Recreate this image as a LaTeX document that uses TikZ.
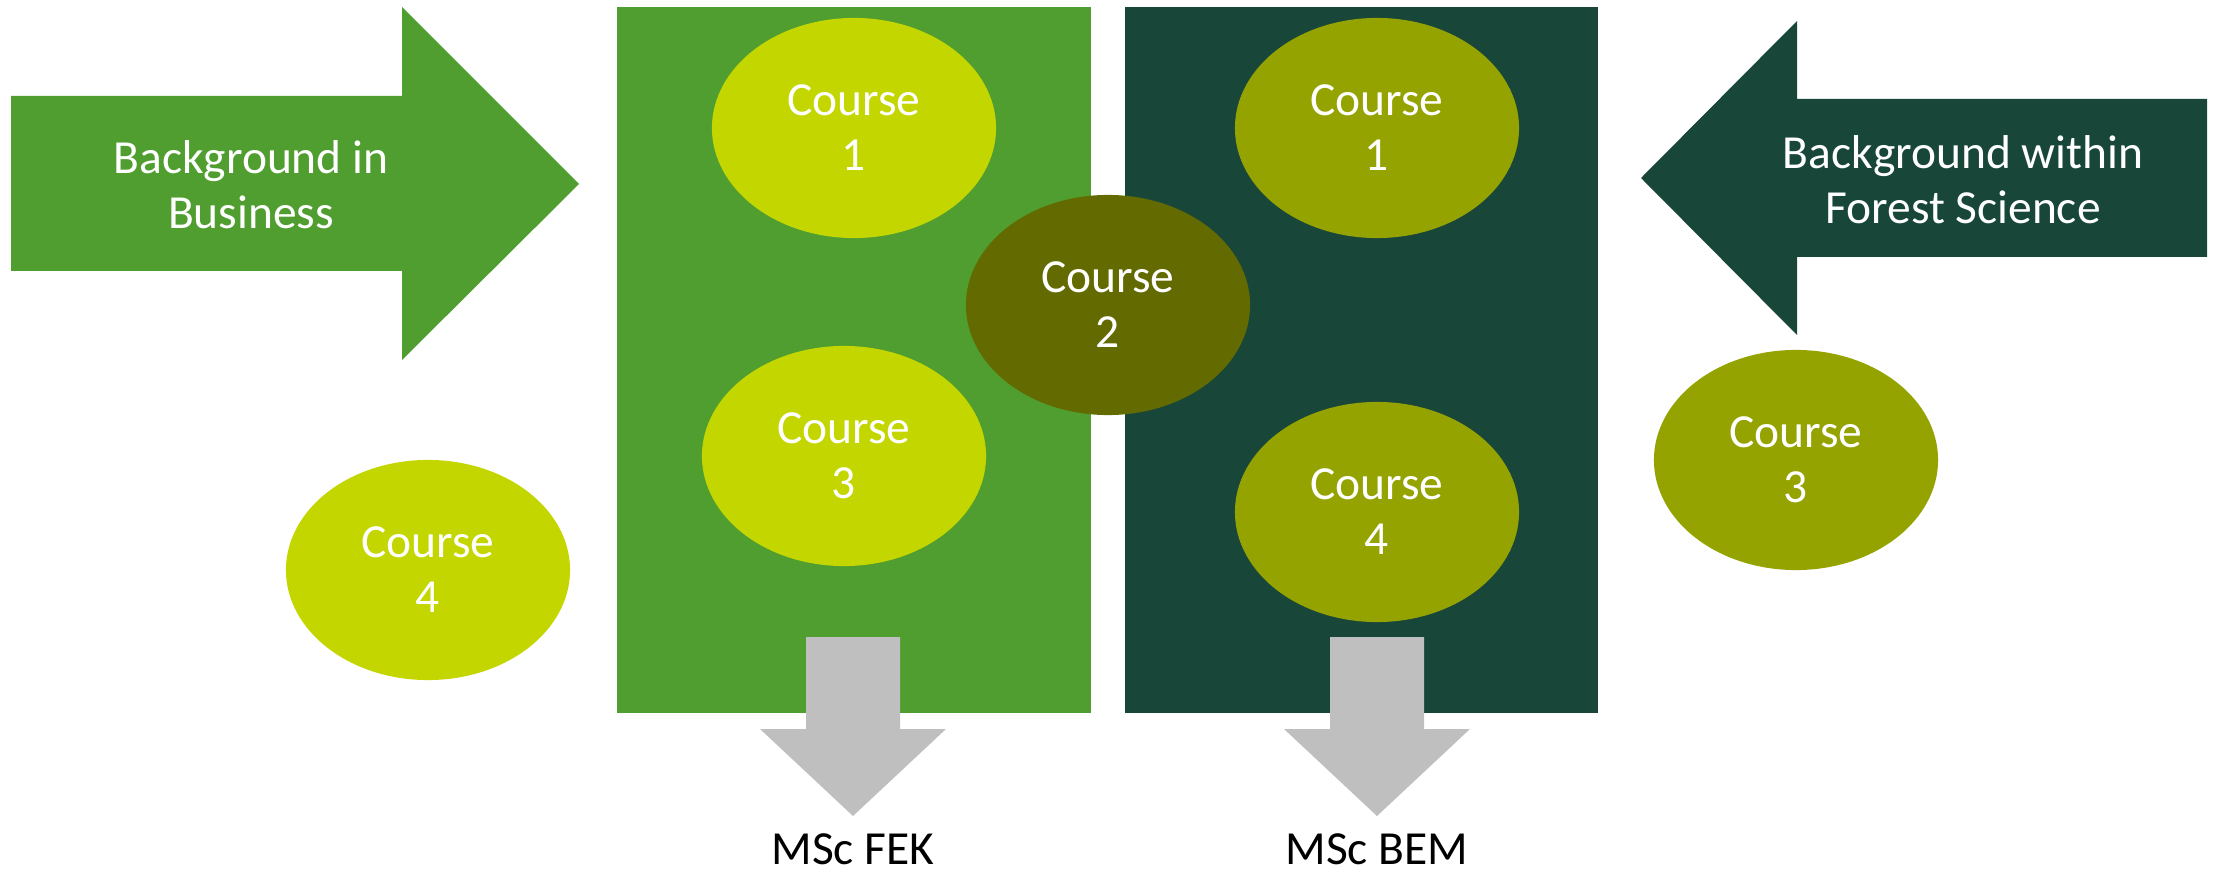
\documentclass[tikz,border=0pt]{standalone}
\usepackage{fontspec}
\setmainfont{Carlito}
\usetikzlibrary{shapes.geometric}
\definecolor{fekgreen}{HTML}{509E2F}
\definecolor{bemgreen}{HTML}{18473A}
\definecolor{limegreen}{HTML}{C4D600}
\definecolor{olivegreen}{HTML}{94A300}
\definecolor{darkolive}{HTML}{626A00}
\definecolor{arrowgrey}{HTML}{BFBFBF}
\tikzset{
  course/.style={ellipse, minimum width=2.84cm, minimum height=2.2cm, inner sep=0pt,
    text=white, align=center, font=\fontsize{13.5}{15.6}\selectfont},
  bgtext/.style={text=white, align=center, font=\fontsize{13.5}{15.6}\selectfont},
  msc/.style={text=black, inner sep=0pt, font=\fontsize{13.5}{15.6}\selectfont}
}
\begin{document}
\begin{tikzpicture}[x=0.01cm, y=-0.01cm]
        \useasboundingbox (0,0) rectangle (2214,876);
        % the two programmes
        \fill[fekgreen] (617,7) rectangle (1091,713);
        \fill[bemgreen] (1125,7) rectangle (1598,713);
        % where the students come from
        \fill[fekgreen] (11,96) -- (402,96) -- (402,7) -- (579,184) -- (402,360) -- (402,271) -- (11,271) -- cycle;
        \fill[bemgreen] (2207,99) -- (1797,99) -- (1797,21) -- (1641,178) -- (1797,335) -- (1797,257) -- (2207,257) -- cycle;
        \node[bgtext] (business) at (251,185) {Background in\\Business};
        \node[bgtext] (forest) at (1963,180) {Background within\\Forest Science};
        % courses
        \node[course, fill=limegreen] (fekone) at (854,128) {Course\\1};
        \node[course, fill=limegreen] (fekthree) at (844,456) {Course\\3};
        \node[course, fill=limegreen] (fekfour) at (428,570) {Course\\4};
        \node[course, fill=darkolive] (two) at (1108,305) {Course\\2};
        \node[course, fill=olivegreen] (bemone) at (1377,128) {Course\\1};
        \node[course, fill=olivegreen] (bemfour) at (1377,512) {Course\\4};
        \node[course, fill=olivegreen] (bemthree) at (1796,460) {Course\\3};
        % degrees
        \foreach \x/\name/\txt in {853/fek/MSc FEK, 1377/bem/MSc BEM}{
          \fill[arrowgrey] (\x-47,637) -- (\x+47,637) -- (\x+47,729) -- (\x+93,729) -- (\x,816) -- (\x-93,729) -- (\x-47,729) -- cycle;
          \node[msc] (\name) at (\x,849) {\txt};
        }
      \end{tikzpicture}
\end{document}
